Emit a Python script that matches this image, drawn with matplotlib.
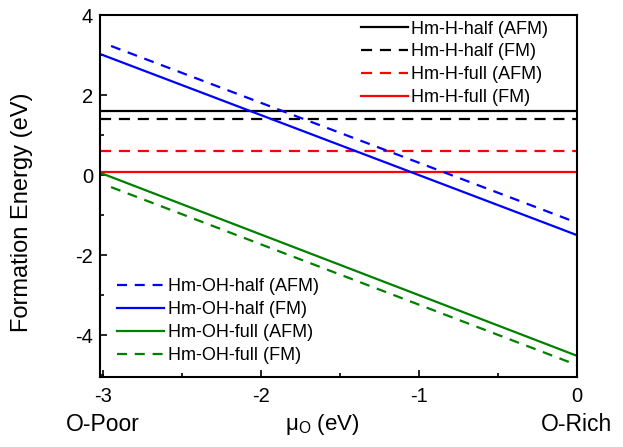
import numpy as np
import matplotlib
matplotlib.use("Agg")
import matplotlib.pyplot as plt
from matplotlib.ticker import MultipleLocator

plt.rcParams['font.family'] = ['Liberation Sans', 'DejaVu Sans']
plt.rcParams['axes.unicode_minus'] = False

# chemical potential range (eV)
mu_full = [-3.02, 0.0]
mu_dash = [-2.95, 0.0]

# flat lines (independent of mu_O)
h_labels = ['Hm-H-half (AFM)', 'Hm-H-half (FM)', 'Hm-H-full (AFM)', 'Hm-H-full (FM)']
h_values = [1.6, 1.4, 0.6, 0.07]
h_colors = ['black', 'black', 'red', 'red']
h_styles = ['-', '--', '--', '-']

# sloped lines: values at the two ends
oh_labels = ['Hm-OH-half (AFM)', 'Hm-OH-half (FM)', 'Hm-OH-full (AFM)', 'Hm-OH-full (FM)']
oh_start = [3.23, 3.03, 0.06, -0.30]
oh_end = [-1.19, -1.50, -4.52, -4.75]
oh_colors = ['#0000ff', '#0000ff', '#008000', '#008000']
oh_styles = ['--', '-', '-', '--']

fig = plt.figure(figsize=(6.23, 4.47), dpi=100)
ax = fig.add_axes([0.1605, 0.1566, 0.7655, 0.8094])

h_handles = []
for lab, v, c, s in zip(h_labels, h_values, h_colors, h_styles):
    kw = dict(dashes=(5, 3.5)) if s == '--' else {}
    ln, = ax.plot(mu_full, [v, v], color=c, lw=1.6, label=lab, **kw)
    h_handles.append(ln)

oh_handles = []
for lab, a, b, c, s in zip(oh_labels, oh_start, oh_end, oh_colors, oh_styles):
    x = mu_dash if s == '--' else mu_full
    kw = dict(dashes=(4.5, 3.5)) if s == '--' else {}
    ln, = ax.plot(x, [a, b], color=c, lw=1.6, label=lab, **kw)
    oh_handles.append(ln)

ax.set_xlim(-3.02, 0)
ax.set_ylim(-5.05, 4)
ax.xaxis.set_major_locator(MultipleLocator(1))
ax.xaxis.set_minor_locator(MultipleLocator(0.5))
ax.yaxis.set_major_locator(MultipleLocator(2))
ax.yaxis.set_minor_locator(MultipleLocator(1))
ax.tick_params(which='both', direction='in', labelsize=14.5, top=False, right=False)
ax.tick_params(which='major', length=5, width=1.2)
ax.tick_params(which='minor', length=3, width=1.2)
ax.tick_params(axis='x', pad=7)
ax.tick_params(axis='y', pad=5)
for sp in ax.spines.values():
    sp.set_linewidth(1.5)

ax.set_ylabel('Formation Energy (eV)', fontsize=17)
ax.yaxis.set_label_coords(-0.14, 0.456)
ax.set_xlabel(r'$\mathregular{\mu_O}$ (eV)', fontsize=16)
ax.xaxis.set_label_coords(0.467, -0.097)
ax.text(-3, -0.13, 'O-Poor', transform=ax.get_xaxis_transform(), ha='center', va='center', fontsize=16.5)
ax.text(0, -0.13, 'O-Rich', transform=ax.get_xaxis_transform(), ha='center', va='center', fontsize=16.5)

leg1 = ax.legend(handles=h_handles, loc='upper right', frameon=False, fontsize=13,
                 handlelength=2.6, handletextpad=0.2, labelspacing=0.32,
                 borderaxespad=0.0, bbox_to_anchor=(0.955, 1.005))
ax.add_artist(leg1)
ax.legend(handles=oh_handles, loc='lower left', frameon=False, fontsize=13,
          handlelength=2.6, handletextpad=0.2, labelspacing=0.34,
          borderaxespad=0.3, bbox_to_anchor=(0.01, 0.0))

fig.savefig('out.png', dpi=100)
